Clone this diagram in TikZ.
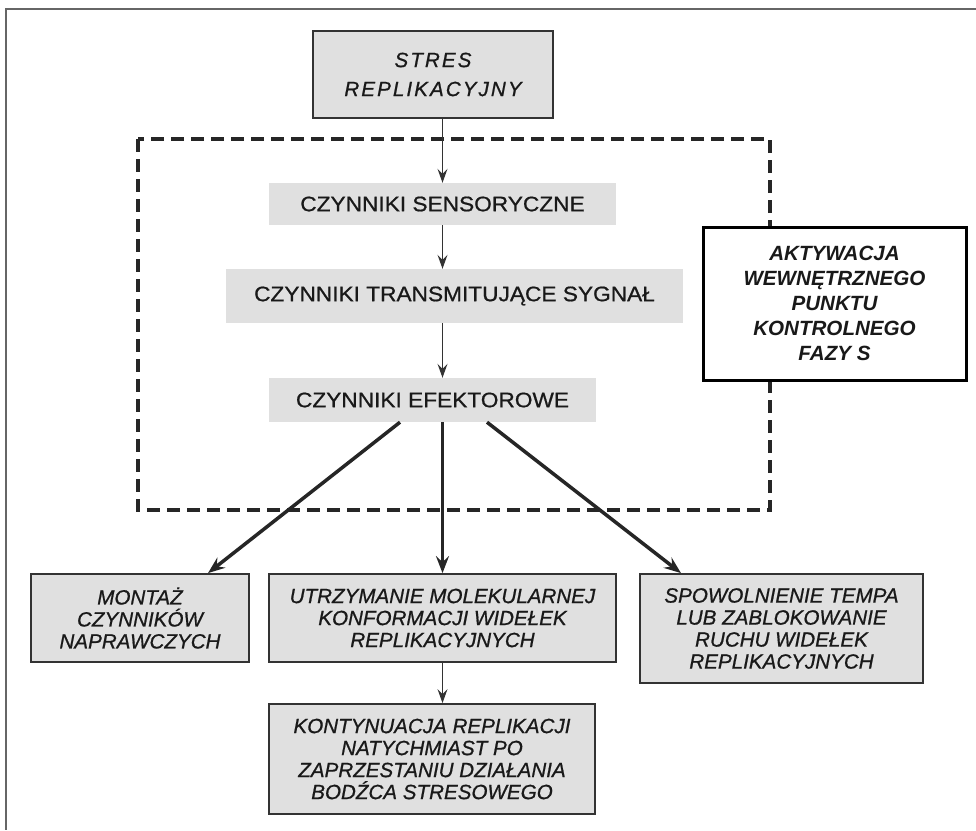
\documentclass[tikz,border=0pt]{standalone}
\usepackage{fontspec}
\setmainfont{Liberation Sans}
\newfontfamily\midfont[FakeStretch=1.08,FakeBold=0.8]{Liberation Sans}
\newfontfamily\itfont[FakeBold=0.8]{Liberation Sans}
\usetikzlibrary{arrows.meta,calc}
\definecolor{BoxClr}{rgb}{0.88,0.88,0.88}
\definecolor{LineClr}{rgb}{0.2,0.2,0.2}
\definecolor{TextClr}{rgb}{0.1,0.1,0.1}

\begin{document}
\begin{tikzpicture}[x=1pt,y=-1pt,
  graybox/.style={draw=LineClr,line width=1.8pt,fill=BoxClr,inner sep=0pt,align=center,
    text=TextClr,font=\itfont\itshape\fontsize{20.6}{22}\selectfont},
  stepbox/.style={fill=BoxClr,inner sep=0pt,text=TextClr,font=\midfont\fontsize{21}{24}\selectfont},
  thinarrow/.style={draw=LineClr,line width=1.4pt,-{Stealth[length=14pt,width=10pt,inset=5pt]}},
  thickarrow/.style={draw=black!85,line width=3.5pt,-{Stealth[length=17pt,width=13pt,inset=6pt]}}]
\useasboundingbox (0,0) rectangle (976,830);

% frame
\draw[gray!80!black,line width=2pt] (976,9) -- (6,9) -- (6,830);

% checkpoint area
\draw[black!85,line width=3.2pt,dash pattern=on 13pt off 7pt] (138,139) rectangle (770,510);

\node[graybox,minimum width=240pt,minimum height=87pt,
  font=\itfont\itshape\fontsize{20.6}{29}\selectfont\addfontfeature{LetterSpace=10}] (stres) at (433,74.5) {STRES\\REPLIKACYJNY};

\node[stepbox,minimum width=347pt,minimum height=42pt] (sens) at (442.5,204) {CZYNNIKI SENSORYCZNE};
\node[stepbox,minimum width=457pt,minimum height=54pt] (trans) at (454.5,296) {CZYNNIKI TRANSMITUJĄCE SYGNAŁ};
\node[stepbox,minimum width=327pt,minimum height=44pt] (efek) at (432.5,400) {CZYNNIKI EFEKTOROWE};

\node[draw=black,line width=3pt,fill=white,inner sep=0pt,align=center,text=TextClr,
  minimum width=263pt,minimum height=153pt,
  font=\bfseries\itshape\fontsize{20.6}{25}\selectfont] (aktyw) at (834.5,303.5)
  {AKTYWACJA\\WEWNĘTRZNEGO\\PUNKTU\\KONTROLNEGO\\FAZY S};

\node[graybox,minimum width=218pt,minimum height=88pt] (montaz) at (140,618) {MONTAŻ\\CZYNNIKÓW\\NAPRAWCZYCH};
\node[graybox,minimum width=347pt,minimum height=88pt] (utrz) at (442.5,618) {UTRZYMANIE MOLEKULARNEJ\\KONFORMACJI WIDEŁEK\\REPLIKACYJNYCH};
\node[graybox,minimum width=283pt,minimum height=109pt] (spow) at (781.5,628.5) {SPOWOLNIENIE TEMPA\\LUB ZABLOKOWANIE\\RUCHU WIDEŁEK\\REPLIKACYJNYCH};
\node[graybox,minimum width=326pt,minimum height=110pt] (kont) at (432,759) {KONTYNUACJA REPLIKACJI\\NATYCHMIAST PO\\ZAPRZESTANIU DZIAŁANIA\\BODŹCA STRESOWEGO};

\draw[thinarrow] (stres.south -| sens.north) -- (sens.north);
\draw[thinarrow] (sens.south) -- (sens.south |- trans.north);
\draw[thinarrow] (sens.south |- trans.south) -- (sens.south |- efek.north);
\draw[thinarrow] (utrz.south) -- (utrz.south |- kont.north);

\coordinate (outL) at ([xshift=-32.5pt]efek.south);
\coordinate (outR) at ([xshift=54.5pt]efek.south);
\draw[thickarrow] (outL) -- ([xshift=68pt]montaz.north);
\draw[thickarrow] (sens.south |- efek.south) -- (utrz.north);
\draw[thickarrow] (outR) -- ([xshift=-100.5pt]spow.north);

\end{tikzpicture}
\end{document}
